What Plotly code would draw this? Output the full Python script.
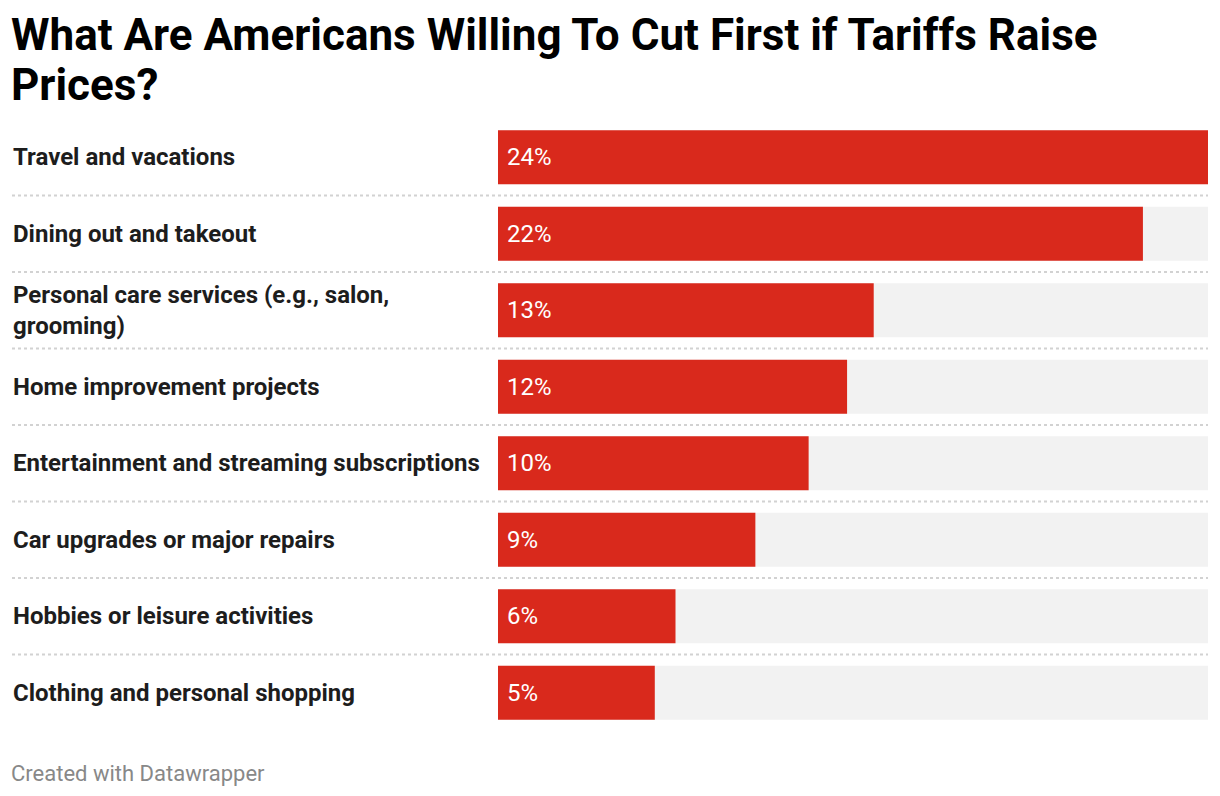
import plotly.graph_objects as go

categories = [
    "Travel and vacations",
    "Dining out and takeout",
    "Personal care services (e.g., salon,<br>grooming)",
    "Home improvement projects",
    "Entertainment and streaming subscriptions",
    "Car upgrades or major repairs",
    "Hobbies or leisure activities",
    "Clothing and personal shopping",
]
values = [24.0, 21.8, 12.7, 11.8, 10.5, 8.7, 6.0, 5.3]
value_labels = ["24%", "22%", "13%", "12%", "10%", "9%", "6%", "5%"]

title_lines = ["What Are Americans Willing To Cut First if Tariffs Raise", "Prices?"]
footer_text = "Created with Datawrapper"

RED = "#d9291c"
BG = "#f2f2f2"
W, H = 1220, 796
ML, MR = 498, 12
MT, MB = 119, 796 - 731
plot_w = W - ML - MR
plot_h = H - MT - MB

vmax = max(values)
ypos = list(range(len(categories)))

fig = go.Figure()
fig.add_trace(go.Bar(
    y=ypos, x=[vmax] * len(values), orientation="h",
    marker=dict(color=BG, line=dict(width=0)), hoverinfo="skip", showlegend=False,
))
fig.add_trace(go.Bar(
    y=ypos, x=values, orientation="h",
    marker=dict(color=RED, line=dict(width=0)), showlegend=False,
))

label_x = -(ML - 12) / plot_w

def paper_y(px):
    return (H - MB - px) / plot_h

annotations = []
for i, (c, lab) in enumerate(zip(categories, value_labels)):
    annotations.append(dict(
        x=label_x, xref="paper", y=i, yref="y", text=c, showarrow=False,
        xanchor="left", yanchor="middle", align="left", xshift=-1,
        font=dict(family="Roboto", size=24, color="#1d1d1d", weight=700),
    ))
    annotations.append(dict(
        x=0, xref="x", y=i, yref="y", text=lab, showarrow=False,
        xanchor="left", yanchor="middle", xshift=7,
        font=dict(family="Roboto", size=24, color="#ffffff"),
    ))

for line, cy in zip(title_lines, [35, 85]):
    annotations.append(dict(
        x=label_x, xref="paper", y=paper_y(cy), yref="paper", yanchor="middle", xanchor="left",
        text=line, showarrow=False, align="left", xshift=-3,
        font=dict(family="Roboto", size=44, color="#000000", weight=700),
    ))
annotations.append(dict(
    x=label_x, xref="paper", y=paper_y(773), yref="paper", xanchor="left", yanchor="middle",
    text=footer_text, showarrow=False, align="left", xshift=-3,
    font=dict(family="Roboto", size=22, color="#888888"),
))

shapes = []
for i in range(len(categories) - 1):
    shapes.append(dict(
        type="line", xref="paper", yref="y", x0=label_x, x1=1, y0=i + 0.5, y1=i + 0.5,
        line=dict(color="#d2d2d2", width=2, dash="dot"),
    ))

fig.update_layout(
    width=W, height=H,
    margin=dict(l=ML, r=MR, t=MT, b=MB),
    paper_bgcolor="white", plot_bgcolor="white",
    barmode="overlay", bargap=0.295,
    xaxis=dict(range=[0, vmax], visible=False, fixedrange=True),
    yaxis=dict(range=[len(categories) - 0.5, -0.5], visible=False, fixedrange=True),
    annotations=annotations, shapes=shapes,
)

fig.write_html("out.html", config={"displayModeBar": False},
               post_script="document.body.style.margin='0';document.body.style.padding='0';")
